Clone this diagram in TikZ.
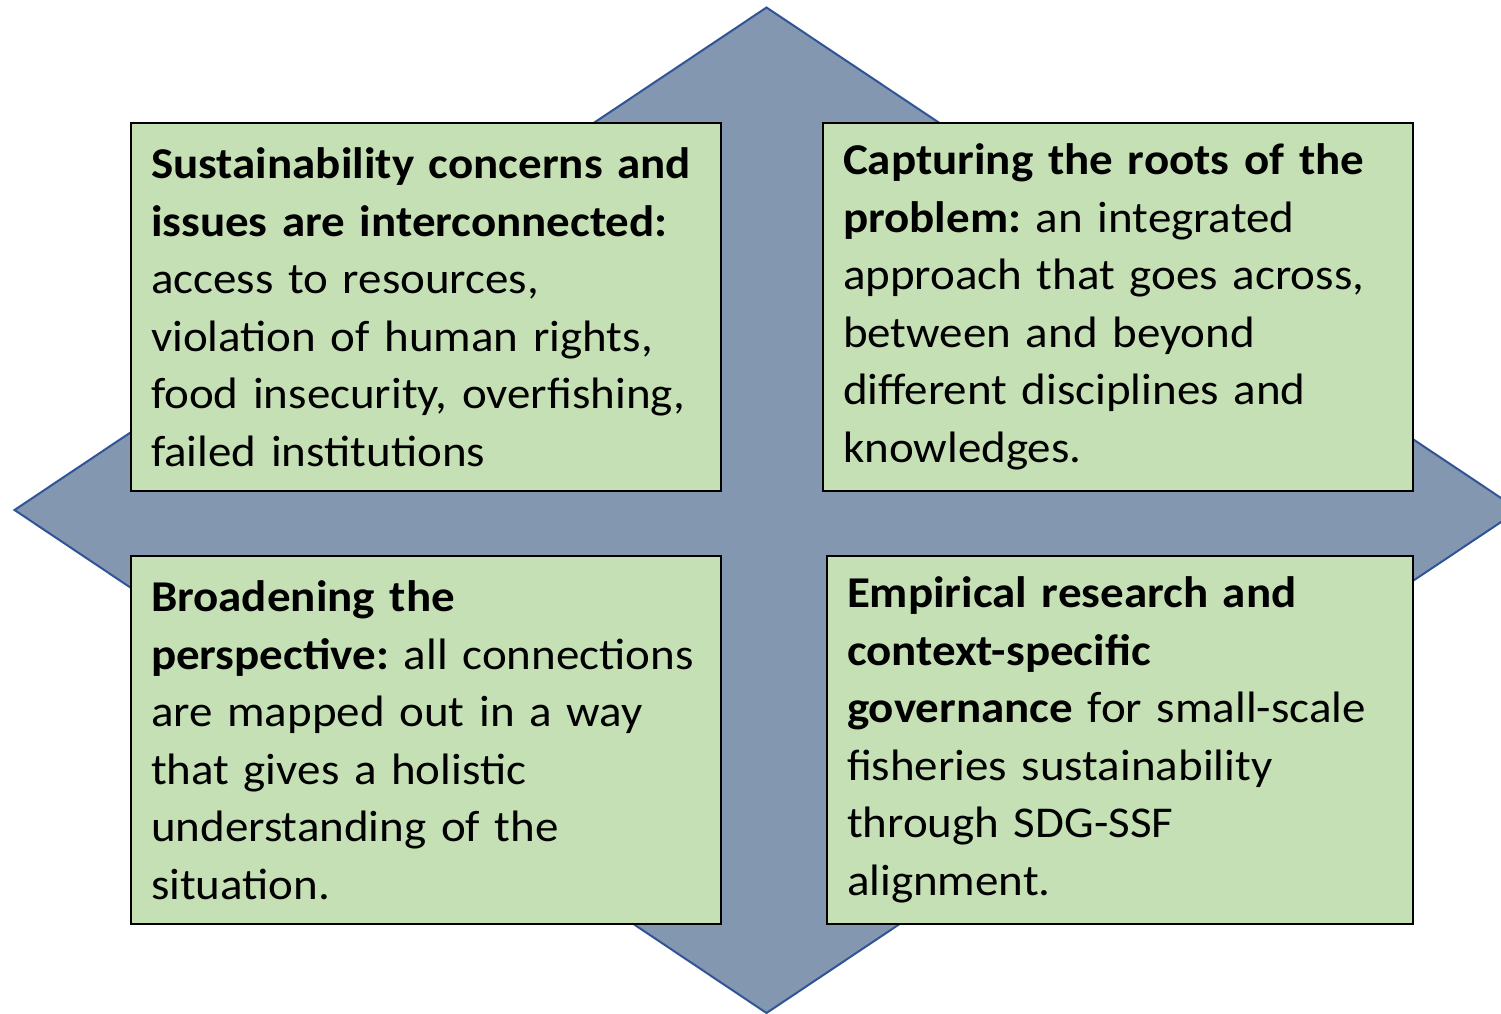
\documentclass[tikz,border=0pt]{standalone}
\usepackage{fontspec}
\setmainfont{Carlito}[FakeStretch=1.068]
\definecolor{dfill}{HTML}{8497B0}
\definecolor{dline}{HTML}{2F5597}
\definecolor{bfill}{HTML}{C5E0B4}
\begin{document}
\frenchspacing
\begin{tikzpicture}[x=1pt,y=-1pt,
  infobox/.style={draw=black, line width=2pt, fill=bfill, anchor=north west,
    minimum height=368pt, inner xsep=20pt, inner ysep=0pt, align=left,
    font=\fontsize{44}{57.5}\selectfont\frenchspacing}]
\useasboundingbox (0,0) rectangle (1501,1014);
\coordinate (T) at (766.5,7.5);
\coordinate (R) at (1519,510);
\coordinate (B) at (766.5,1013);
\coordinate (L) at (14.5,510);
\draw[fill=dfill, draw=dline, line width=2pt, line join=miter] (T) -- (R) -- (B) -- (L) -- cycle;
\node[infobox, minimum width=590pt, text width=550pt] (b1) at (130,122)
 {\textbf{Sustainability concerns and}\\ \textbf{issues are interconnected:}\\ access to resources,\\ violation of human rights,\\ food insecurity, overfishing,\\ failed institutions};
\node[infobox, minimum width=590pt, text width=550pt] (b2) at (822,122)
 {\textbf{Capturing the roots of the}\\ \textbf{problem:} an integrated\\ approach that goes across,\\ between and beyond\\ different disciplines and\\ knowledges.};
\node[infobox, minimum width=590pt, text width=550pt] (b3) at (130,555)
 {\textbf{Broadening the}\\ \textbf{perspective:} all connections\\ are mapped out in a way\\ that gives a holistic\\ understanding of the\\ situation.};
\node[infobox, minimum width=586pt, text width=546pt] (b4) at (826,555)
 {\textbf{Empirical research and}\\ \textbf{context-specific}\\ \textbf{governance} for small-scale\\ fisheries sustainability\\ through SDG-SSF\\ alignment.};
\end{tikzpicture}
\end{document}
